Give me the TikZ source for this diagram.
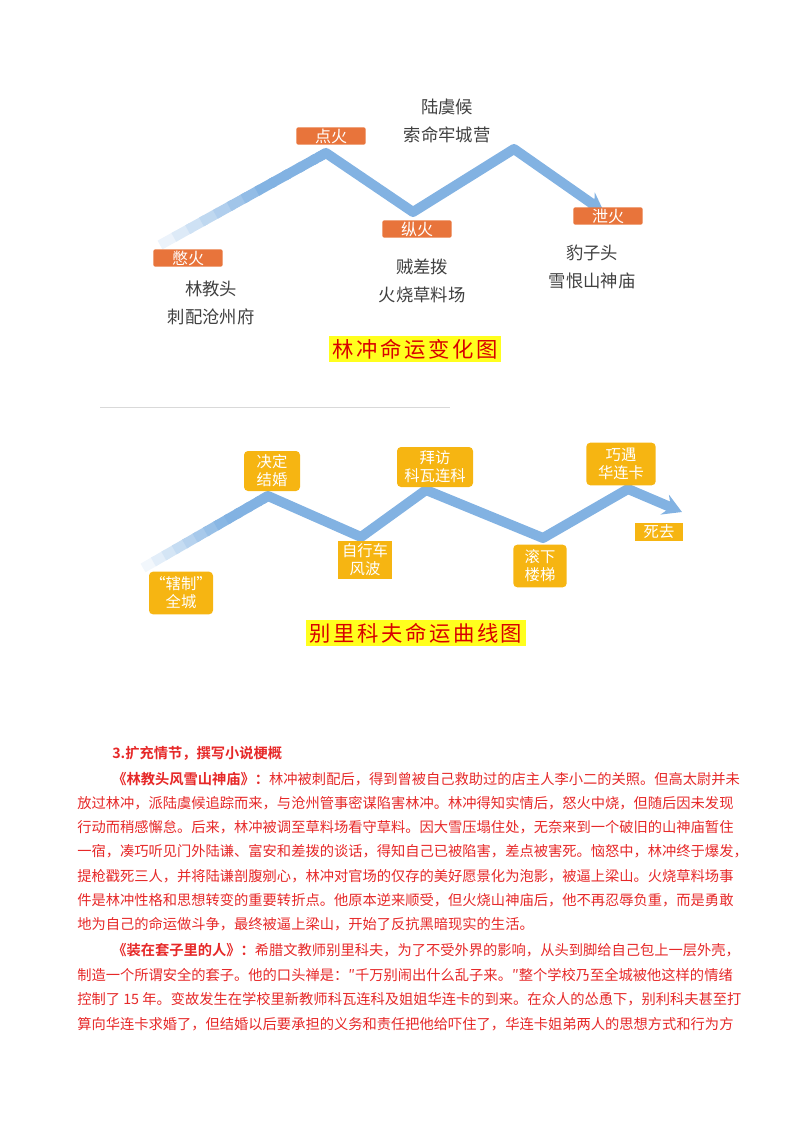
\documentclass[tikz,border=0pt]{standalone}
\usepackage{fontspec}
\setmainfont{Liberation Serif}
\newfontfamily\cjk{Noto Sans CJK SC}
\newfontfamily\cjkb{Noto Sans CJK SC}[BoldFont={* Bold}]
\newfontfamily\cjkt{Noto Sans CJK SC}[LetterSpace=12]
\usetikzlibrary{arrows.meta,calc}
\definecolor{orbox}{HTML}{E8743B}
\definecolor{ylbox}{HTML}{F6B512}
\definecolor{blu}{HTML}{82B2E2}
\definecolor{txtred}{HTML}{E62828}
\definecolor{titred}{HTML}{D80000}
\definecolor{titbg}{HTML}{FFFF1E}
\tikzset{
 obox/.style={fill=orbox,text=white,font=\cjk\fontsize{12}{13}\selectfont,minimum width=52pt,minimum height=13pt,inner sep=0pt,rounded corners=1.5pt},
 ybox/.style={fill=ylbox,text=white,font=\cjk\fontsize{11.5}{13.5}\selectfont,align=center,rounded corners=3pt,inner sep=0pt},
 lbl/.style={text=black!75,font=\cjk\fontsize{13}{21.5}\selectfont,align=center},
 ttl/.style={fill=titbg,text=titred,font=\cjkt\fontsize{16}{17}\selectfont,inner xsep=3pt,inner ysep=2pt},
 wave/.style={draw=blu,line width=7.5pt,line join=round},
 body/.style={anchor=west,text=txtred,font=\cjk\fontsize{10.7}{12}\selectfont,inner sep=0pt},
}
\begin{document}
\begin{tikzpicture}[x=0.75pt,y=-0.75pt]
\useasboundingbox (0,0) rectangle (800,1132);
% ---- diagram 1
\coordinate (a0) at (160,245);
\coordinate (a1) at (326,153);
\coordinate (a2) at (413,212);
\coordinate (a3) at (514,149);
\coordinate (a4) at (604,212);
\foreach \i in {0,...,11}{
  \pgfmathsetmacro\pa{\i/12}\pgfmathsetmacro\pb{min(1,(\i+1.3)/12)}
  \pgfmathsetmacro\pc{min(100,15+\i*12)}
  \draw[draw=blu!\pc!white,line width=7.5pt] ($(a0)!\pa!(a1)$) -- ($(a0)!\pb!(a1)$);
}
\draw[wave,-{Stealth[length=14pt,width=16pt,inset=5pt]}] ($(a0)!0.95!(a1)$) -- (a1) -- (a2) -- (a3) -- (a4);
\node[obox] (n1) at (188,258) {憋火};
\node[obox] (n2) at (331,136) {点火};
\node[obox] (n3) at (417,229) {纵火};
\node[obox] (n4) at (608,216) {泄火};
\node[lbl] (t1) at (211,303) {林教头\\刺配沧州府};
\node[lbl] (t2) at (447,121) {陆虞候\\索命牢城营};
\node[lbl] (t3) at (422,281) {贼差拨\\火烧草料场};
\node[lbl] (t4) at (592,267) {豹子头\\雪恨山神庙};
\node[ttl] (ttl1) at (415,349) {林冲命运变化图};
\draw[black!15,line width=0.6pt] (100,407) -- (450,407);
% ---- diagram 2
\coordinate (b0) at (143,568);
\coordinate (b1) at (268,496);
\coordinate (b2) at (361,537);
\coordinate (b3) at (426,490);
\coordinate (b4) at (543,538);
\coordinate (b5) at (628,489);
\coordinate (b6) at (682,512);
\foreach \i in {0,...,11}{
  \pgfmathsetmacro\pa{\i/12}\pgfmathsetmacro\pb{min(1,(\i+1.3)/12)}
  \pgfmathsetmacro\pc{min(100,10+\i*12)}
  \draw[draw=blu!\pc!white,line width=7.5pt] ($(b0)!\pa!(b1)$) -- ($(b0)!\pb!(b1)$);
}
\draw[wave,-{Stealth[length=14pt,width=16pt,inset=5pt]}] ($(b0)!0.95!(b1)$) -- (b1) -- (b2) -- (b3) -- (b4) -- (b5) -- (b6);
\node[ybox,minimum width=42pt,minimum height=30pt] (m1) at (272,471) {决定\\结婚};
\node[ybox,minimum width=57pt,minimum height=30pt] (m2) at (435,467) {拜访\\科瓦连科};
\node[ybox,minimum width=52pt,minimum height=32pt] (m3) at (621,464) {巧遇\\华连卡};
\node[ybox,minimum width=41pt,minimum height=28pt,rounded corners=0pt] (m4) at (365,560) {自行车\\风波};
\node[ybox,minimum width=40pt,minimum height=32pt] (m5) at (540,566) {滚下\\楼梯};
\node[ybox,minimum width=48pt,minimum height=32pt] (m6) at (181,593) {“辖制”\\全城};
\node[ybox,minimum width=36pt,minimum height=14pt,rounded corners=0pt] (m7) at (659,532) {死去};
\node[ttl] (ttl2) at (416,633) {别里科夫命运曲线图};
% ---- text
\node[body,font=\cjkb\bfseries\fontsize{10.7}{12}\selectfont] (h) at (112,753) {3.扩充情节，撰写小说梗概};
\node[body] (p1) at (112,779) {{\cjkb\bfseries《林教头风雪山神庙》：}林冲被刺配后，得到曾被自己救助过的店主人李小二的关照。但高太尉并未};
\node[body] (p2) at (77,803) {放过林冲，派陆虞候追踪而来，与沧州管事密谋陷害林冲。林冲得知实情后，怒火中烧，但随后因未发现};
\node[body] (p3) at (77,827) {行动而稍感懈怠。后来，林冲被调至草料场看守草料。因大雪压塌住处，无奈来到一个破旧的山神庙暂住};
\node[body] (p4) at (77,851) {一宿，凑巧听见门外陆谦、富安和差拨的谈话，得知自己已被陷害，差点被害死。恼怒中，林冲终于爆发，};
\node[body] (p5) at (77,876) {提枪戳死三人，并将陆谦剖腹剜心，林冲对官场的仅存的美好愿景化为泡影，被逼上梁山。火烧草料场事};
\node[body] (p6) at (77,900) {件是林冲性格和思想转变的重要转折点。他原本逆来顺受，但火烧山神庙后，他不再忍辱负重，而是勇敢};
\node[body] (p7) at (77,924) {地为自己的命运做斗争，最终被逼上梁山，开始了反抗黑暗现实的生活。};
\node[body] (p8) at (112,950) {{\cjkb\bfseries《装在套子里的人》：}希腊文教师别里科夫，为了不受外界的影响，从头到脚给自己包上一层外壳，};
\node[body] (p9) at (77,975) {制造一个所谓安全的套子。他的口头禅是：″千万别闹出什么乱子来。″整个学校乃至全城被他这样的情绪};
\node[body] (p10) at (77,999) {控制了 15 年。变故发生在学校里新教师科瓦连科及姐姐华连卡的到来。在众人的怂恿下，别利科夫甚至打};
\node[body] (p11) at (77,1024) {算向华连卡求婚了，但结婚以后要承担的义务和责任把他给吓住了，华连卡姐弟两人的思想方式和行为方};
\end{tikzpicture}
\end{document}
